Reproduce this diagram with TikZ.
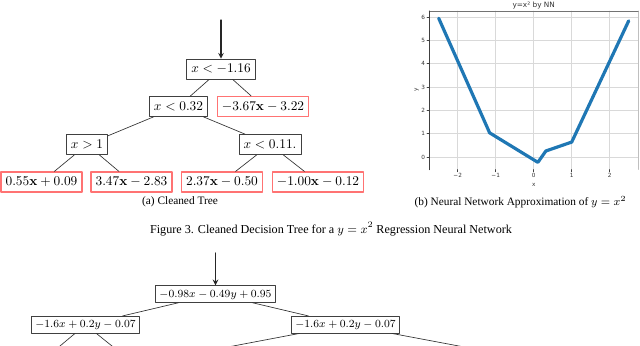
\RequirePackage{fix-cm}
\documentclass[tikz,border=0pt]{standalone}
\usepackage[no-math]{fontspec}
\newfontfamily\capfont{Liberation Serif}
\newfontfamily\plotfont{DejaVu Sans}
\usetikzlibrary{arrows}
\begin{document}
\begin{tikzpicture}[x=0.75pt,y=-0.75pt,line join=round,line cap=round,>=stealth]
	\tikzset{splitbox/.style={draw=black!75,line width=0.6pt,fill=white,inner xsep=3.5pt,inner ysep=3.6pt,text height=6.8pt,text depth=0.9pt},
		leafbox/.style={splitbox,draw=red!55,line width=0.9pt},
		smallbox/.style={font=\fontsize{8.2}{9}\selectfont,inner xsep=2.8pt,inner ysep=3pt,text height=5.6pt,text depth=0.9pt},
		link/.style={black!80,line width=0.5pt},
		captext/.style={font=\capfont\fontsize{8.5}{10}\selectfont}}
	\useasboundingbox (0,0) rectangle (640,346);
	\clip (0,0) rectangle (640,346);
	% (a) cleaned tree
	\coordinate (ina) at (221,20);
	\node[splitbox] (t0) at (221,69) {$x<-1.16$};
	\node[splitbox] (t1) at (178.5,106.5) {$x<0.32$};
	\node[leafbox] (t2) at (263,106.5) {$-3.67\mathbf{x}-3.22$};
	\node[splitbox] (t3) at (87,144.5) {$x>1$};
	\node[splitbox] (t4) at (270,144.5) {$x<0.11.$};
	\node[leafbox] (l1) at (41.5,182) {$0.55\mathbf{x}+0.09$};
	\node[leafbox] (l2) at (131.5,182) {$3.47\mathbf{x}-2.83$};
	\node[leafbox] (l3) at (222,182) {$2.37\mathbf{x}-0.50$};
	\node[leafbox] (l4) at (318,182) {$-1.00\mathbf{x}-0.12$};
	\draw[->,line width=0.9pt,black!85] (ina) -- (t0);
	\foreach \a/\b in {t0/t1,t0/t2,t1/t3,t1/t4,t3/l1,t3/l2,t4/l3,t4/l4}
		\draw[link] (\a) -- (\b);
	\node[captext] (capa) at (180,202) {(a) Cleaned Tree};
	% (b) plot
	\begin{scope}[shift={(400.275pt,-117.75pt)},x=28.5pt,y=17.475pt]
		\def\xmin{-2.75} \def\xmax{2.75}
		\def\ymin{-0.54} \def\ymax{6.265}
		\tikzset{every node/.style={font=\plotfont\fontsize{4.3}{5}\selectfont,text=black!80}}
		\foreach \x in {-2,...,2} \draw[black!15,line width=0.6pt] (\x,\ymin) -- (\x,\ymax);
		\foreach \y in {0,...,6} \draw[black!15,line width=0.6pt] (\xmin,\y) -- (\xmax,\y);
		\draw[black!25,line width=0.5pt] (\xmax,\ymax) -- (\xmax,\ymin);
		\draw[black!55,line width=0.6pt] (\xmax,\ymax) -- (\xmin,\ymax);
		\draw[black!75,line width=0.8pt] (\xmin,\ymax) -- (\xmin,\ymin);
		\foreach \x/\t in {-2/−2,-1/−1,0/0,1/1,2/2}
			\draw[black!75,line width=0.5pt] (\x,\ymin) -- ++(0,-1.6pt) node[below,inner sep=1.2pt] {\t};
		\foreach \y in {0,...,6}
			\draw[black!75,line width=0.5pt] (\xmin,\y) -- ++(-1.6pt,0) node[left,inner sep=1.2pt] {\y};
		\node at (0,-1.2) {x};
		\node[rotate=90] at (-3.08,2.9) {y};
		\node[font=\plotfont\fontsize{5.5}{6}\selectfont,above,inner sep=1.5pt] at (0,\ymax) {y=x² by NN};
		\draw[line width=2.4pt,color={rgb,255:red,31;green,119;blue,180}] plot coordinates {(-2.5,5.955) (-1.16,1.037) (0.11,-0.23) (0.32,0.258) (1,0.64) (2.5,5.845)};
	\end{scope}
	\node[captext] (capb) at (520.5,202) {(b) Neural Network Approximation of $y=x^2$};
	\node[captext,font=\capfont\fontsize{9.1}{11}\selectfont] (fig) at (331,229) {Figure 3. Cleaned Decision Tree for a $y=x^2$ Regression Neural Network};
	% second tree, cut by the page
	\coordinate (inb) at (215.5,253);
	\node[splitbox,smallbox] (b0) at (215.5,294) {$-0.98x-0.49y+0.95$};
	\node[splitbox,smallbox] (b1) at (85.5,324.7) {$-1.6x+0.2y-0.07$};
	\node[splitbox,smallbox] (b2) at (345.5,324.7) {$-1.6x+0.2y-0.07$};
	\foreach \n/\x in {g1/48,g2/124.4,g3/180.5,g4/512} \coordinate (\n) at (\x,356);
	\draw[->,line width=0.9pt,black!85] (inb) -- (b0);
	\foreach \a/\b in {b0/b1,b0/b2,b1/g1,b1/g2,b2/g3,b2/g4}
		\draw[link] (\a) -- (\b);
\end{tikzpicture}
\end{document}
